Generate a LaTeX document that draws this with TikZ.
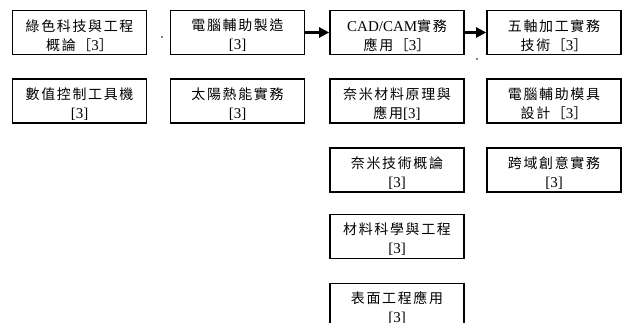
\documentclass[tikz,border=0pt]{standalone}
\usepackage{fontspec}
\setmainfont{Liberation Serif}
\newfontfamily\cjk[LetterSpace=12,Scale=0.93]{Noto Sans CJK TC}
\usetikzlibrary{arrows.meta}
\newcommand\toppad{\rule{0pt}{18pt}}
\tikzset{
  box/.style={draw, line width=1.6pt, minimum width=134pt, minimum height=44pt,
    inner sep=0pt, align=center, font=\fontsize{15}{19}\selectfont},
  arr/.style={line width=2.2pt, -{Triangle[length=10pt,width=10pt]}},
  speck/.style={fill=black, circle, inner sep=0pt, minimum size=1.6pt},
}
\begin{document}
\begin{tikzpicture}[x=1pt,y=-1pt]
\useasboundingbox (0,0) rectangle (623,323);
\clip (0,0) rectangle (623,323);
% column 1
\node[box] (a1) at (79.5,32.5) {\toppad{\cjk 綠色科技與工程}\\{\cjk 概論［}3{\cjk ］}};
\node[box] (a2) at (79.5,101) {\toppad{\cjk 數值控制工具機}\\{[3]}};
% column 2
\node[box] (b1) at (237.5,32.5) {\toppad{\cjk 電腦輔助製造}\\{[3]}};
\node[box] (b2) at (237.5,101) {\toppad{\cjk 太陽熱能實務}\\{[3]}};
% column 3
\node[box] (c1) at (397,32.5) {\toppad CAD/CAM{\cjk 實務}\\{\cjk 應用［}3{\cjk ］}};
\node[box] (c2) at (397,101) {\toppad{\cjk 奈米材料原理與}\\{\cjk 應用}[3]};
\node[box] (c3) at (397,170) {\toppad{\cjk 奈米技術概論}\\{[3]}};
\node[box] (c4) at (397,236.5) {\toppad{\cjk 材料科學與工程}\\{[3]}};
\node[box] (c5) at (397,305.5) {\toppad{\cjk 表面工程應用}\\{[3]}};
% column 4
\node[box] (d1) at (554,32.5) {\toppad{\cjk 五軸加工實務}\\{\cjk 技術［}3{\cjk ］}};
\node[box] (d2) at (554,101) {\toppad{\cjk 電腦輔助模具}\\{\cjk 設計［}3{\cjk ］}};
\node[box] (d3) at (554,170) {\toppad{\cjk 跨域創意實務}\\{[3]}};
% arrows
\draw[arr] (b1.east) -- (c1.west);
\draw[arr] (c1.east) -- (d1.west);
% stray specks
\node[speck] (s1) at (162,37) {};
\node[speck] (s2) at (477,59) {};
\end{tikzpicture}
\end{document}
